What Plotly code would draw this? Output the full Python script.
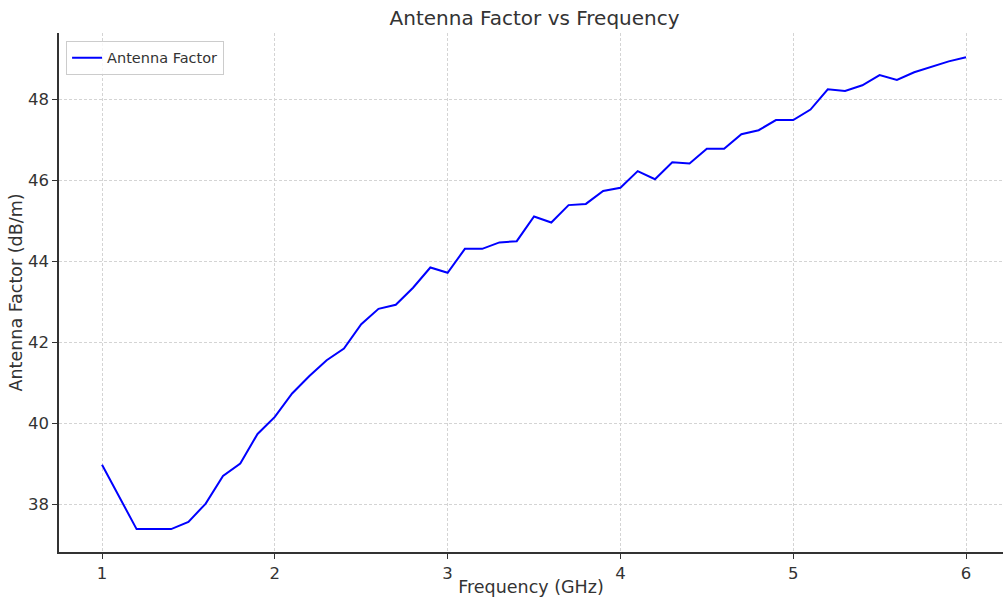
import plotly.graph_objects as go

freq_ghz = [round(1.0 + 0.1 * i, 1) for i in range(51)]
antenna_factor = [
    38.97, 38.19, 37.38, 37.38, 37.38, 37.56, 38.01, 38.69, 39.00, 39.73,
    40.15, 40.73, 41.16, 41.55, 41.84, 42.44, 42.82, 42.92, 43.34, 43.84,
    43.71, 44.30, 44.30, 44.46, 44.49, 45.10, 44.95, 45.38, 45.41, 45.73,
    45.81, 46.22, 46.02, 46.44, 46.41, 46.77, 46.77, 47.13, 47.23, 47.48,
    47.48, 47.74, 48.24, 48.20, 48.34, 48.59, 48.47, 48.66, 48.80, 48.93,
    49.03,
]
x_ticks = [1, 2, 3, 4, 5, 6]
y_ticks = [38, 40, 42, 44, 46, 48]

FONT = "DejaVu Sans"
TXT = "#333333"
GRID = "#d4d4d4"

fig = go.Figure()
fig.add_trace(go.Scatter(
    x=freq_ghz, y=antenna_factor, mode="lines", name="Antenna Factor",
    line=dict(color="#0000ff", width=2),
))

fig.update_layout(
    width=1003, height=597,
    margin=dict(l=59, r=0, t=33, b=45, autoexpand=False),
    paper_bgcolor="white", plot_bgcolor="white",
    font=dict(family=FONT, color=TXT, size=16),
    title=dict(text="Antenna Factor vs Frequency", x=0.533, xanchor="center",
               y=0.97, yanchor="middle", font=dict(size=20, color=TXT, family=FONT)),
    showlegend=True,
    legend=dict(x=0.0075, y=0.985, xanchor="left", yanchor="top",
                bgcolor="rgba(255,255,255,0.8)", bordercolor="#cccccc", borderwidth=1,
                font=dict(size=14.5, color=TXT, family=FONT),
                itemwidth=30, tracegroupgap=0),
)
fig.update_xaxes(
    range=[0.751, 6.214], tickvals=x_ticks, ticktext=[str(v) for v in x_ticks],
    showgrid=True, gridcolor=GRID, griddash="3px,2px", gridwidth=1,
    showline=True, linecolor="#333333", linewidth=1.5, mirror=False,
    ticks="outside", ticklen=5, tickcolor="#333333",
    zeroline=False, automargin=False,
    title=dict(text="Frequency (GHz)", font=dict(size=17.5, color=TXT, family=FONT), standoff=8),
    tickfont=dict(size=16.5, color=TXT, family=FONT),
)
fig.update_yaxes(
    range=[36.815, 49.63], tickvals=y_ticks, ticktext=[str(v) for v in y_ticks],
    showgrid=True, gridcolor=GRID, griddash="3px,2px", gridwidth=1,
    showline=True, linecolor="#333333", linewidth=1.5, mirror=False,
    ticks="outside", ticklen=5, tickcolor="#333333",
    zeroline=False, automargin=False,
    title=dict(text="Antenna Factor (dB/m)", font=dict(size=17.5, color=TXT, family=FONT), standoff=1),
    tickfont=dict(size=16.5, color=TXT, family=FONT),
)

fig.write_html("out.html", config={"displayModeBar": False},
               post_script="document.body.style.margin='0';document.body.style.padding='0';")
